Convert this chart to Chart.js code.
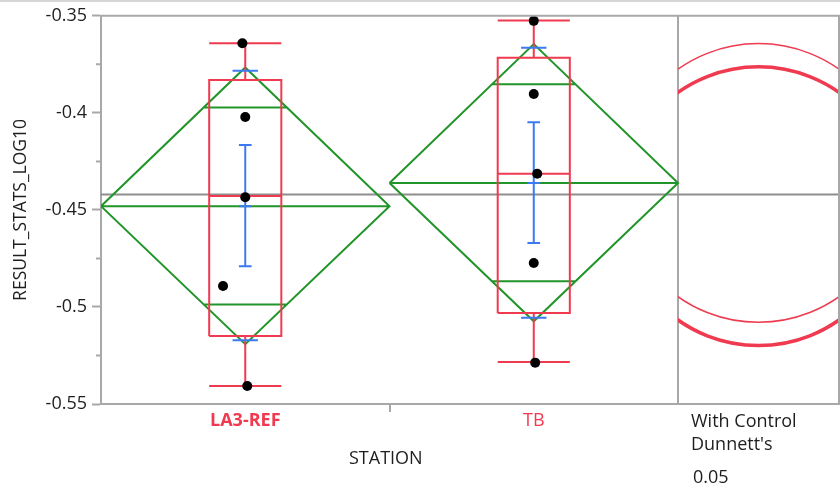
<!DOCTYPE html>
<html>
<head>
<meta charset="utf-8">
<script src="https://cdn.jsdelivr.net/npm/chart.js@4.4.1/dist/chart.umd.min.js"></script>
<style>
  html, body { margin: 0; padding: 0; background: #fff; }
  #wrap { position: relative; width: 840px; height: 486px; font-family: 'Open Sans', 'Noto Sans', sans-serif; color: #1e1e1e; }
  #topline { position: absolute; left: 0; top: 0; width: 840px; height: 2px; background: #d6d6d6; }
  canvas { position: absolute; left: 0; top: 0; }
  .lbl { position: absolute; font-size: 18px; line-height: 22px; white-space: nowrap; }
</style>
</head>
<body>
<div id="wrap">
  <canvas id="oneway" width="840" height="486"></canvas>
  <div id="topline"></div>
  <div class="lbl" style="left:349px; top:446px;">STATION</div>
  <div class="lbl" style="left:691px; top:409px;">With Control</div>
  <div class="lbl" style="left:691px; top:432px;">Dunnett's</div>
  <div class="lbl" style="left:693px; top:465px;">0.05</div>
</div>
<script>
// stations (LA3-REF is the control)
const stations = ['LA3-REF', 'TB'];
const controlIndex = 0;

// raw points
const pointStation = [0, 0, 0, 0, 0, 1, 1, 1, 1, 1];
const pointJitter = [-0.010, 0, 0, -0.077, 0.007, 0, 0, 0.012, 0, 0.005];
const pointValue = [-0.3641, -0.4021, -0.4435, -0.4892, -0.5407, -0.3526, -0.3903, -0.4314, -0.4774, -0.5287];

// means diamonds
const means = [-0.4481, -0.4361];
const ciLow = [-0.5192, -0.5074];
const ciHigh = [-0.3766, -0.3646];
const overlapLow = [-0.4987, -0.4868];
const overlapHigh = [-0.3973, -0.3853];

// box plots
const boxMin = [-0.5407, -0.5283];
const boxQ1 = [-0.5150, -0.5031];
const boxMedian = [-0.4429, -0.4314];
const boxQ3 = [-0.3831, -0.3716];
const boxMax = [-0.3641, -0.3524];

// mean error bars and std dev lines
const seLow = [-0.4790, -0.4671];
const seHigh = [-0.4165, -0.4049];
const sdLow = [-0.5172, -0.5055];
const sdHigh = [-0.3783, -0.3665];

// Dunnett comparison circles
const circleRadius = [0.0718, 0.0718];
const grandMean = -0.4421;

const yTicks = [-0.55, -0.5, -0.45, -0.4, -0.35];
const yTickLabels = ['-0.55', '-0.5', '-0.45', '-0.4', '-0.35'];
const yMinorTicks = [-0.525, -0.475, -0.425, -0.375];

const FONT = "'Open Sans', 'Noto Sans', sans-serif";
const RED = '#f03a50';
const GREEN = '#22952a';
const BLUE = '#3c7af2';
const AXIS = '#a8a8a8';
const MEANLINE = '#8e8e8e';
const panelStart = 1.5;
const panelWidth = 0.558;
const xMax = panelStart + panelWidth;

// turn a list of polylines into one dataset with gaps
function segs(list) {
    const out = [];
    list.forEach((s, k) => {
        if (k) out.push({x: s[0][0], y: null});
        s.forEach(p => out.push({x: p[0], y: p[1]}));
    });
    return out;
}

const green = [], red = [], blue = [];
const bw = 0.125, cap = 0.022, sdCap = 0.044;
stations.forEach((s, i) => {
    const m = means[i];
    green.push([[i - 0.5, m], [i, ciHigh[i]], [i + 0.5, m], [i, ciLow[i]], [i - 0.5, m]]);
    green.push([[i - 0.5, m], [i + 0.5, m]]);
    const hu = 0.5 * (1 - (overlapHigh[i] - m) / (ciHigh[i] - m));
    const hl = 0.5 * (1 - (m - overlapLow[i]) / (m - ciLow[i]));
    green.push([[i - hu, overlapHigh[i]], [i + hu, overlapHigh[i]]]);
    green.push([[i - hl, overlapLow[i]], [i + hl, overlapLow[i]]]);

    red.push([[i - bw, boxQ1[i]], [i + bw, boxQ1[i]], [i + bw, boxQ3[i]], [i - bw, boxQ3[i]], [i - bw, boxQ1[i]]]);
    red.push([[i - bw, boxMedian[i]], [i + bw, boxMedian[i]]]);
    red.push([[i, boxQ3[i]], [i, boxMax[i]]]);
    red.push([[i, boxQ1[i]], [i, boxMin[i]]]);
    red.push([[i - bw, boxMax[i]], [i + bw, boxMax[i]]]);
    red.push([[i - bw, boxMin[i]], [i + bw, boxMin[i]]]);

    blue.push([[i, seLow[i]], [i, seHigh[i]]]);
    blue.push([[i - cap, seLow[i]], [i + cap, seLow[i]]]);
    blue.push([[i - cap, seHigh[i]], [i + cap, seHigh[i]]]);
    blue.push([[i - cap, m], [i + cap, m]]);
    blue.push([[i - sdCap, sdLow[i]], [i + sdCap, sdLow[i]]]);
    blue.push([[i - sdCap, sdHigh[i]], [i + sdCap, sdHigh[i]]]);
});

const points = pointValue.map((v, k) => ({x: pointStation[k] + pointJitter[k], y: v}));

// circles, plot frame and minor ticks
const panelPlugin = {
    id: 'panel',
    afterDatasetsDraw(chart) {
        const {ctx, chartArea, scales} = chart;
        const xs = scales.x, ys = scales.y;
        const left = xs.getPixelForValue(panelStart);
        const cx = xs.getPixelForValue(panelStart + panelWidth / 2);
        ctx.save();
        ctx.beginPath();
        ctx.rect(left, chartArea.top, chartArea.right - left, chartArea.bottom - chartArea.top);
        ctx.clip();
        ctx.strokeStyle = RED;
        stations.forEach((s, i) => {
            const cy = ys.getPixelForValue(means[i]);
            const r = Math.abs(ys.getPixelForValue(means[i] + circleRadius[i]) - cy);
            ctx.lineWidth = i === controlIndex ? 3.5 : 1.5;
            ctx.beginPath();
            ctx.arc(cx, cy, r, 0, Math.PI * 2);
            ctx.stroke();
        });
        ctx.restore();
    },
    afterDraw(chart) {
        const {ctx, chartArea, scales} = chart;
        ctx.save();
        ctx.strokeStyle = AXIS;
        ctx.lineWidth = 2;
        ctx.beginPath();
        ctx.moveTo(chartArea.left, chartArea.top);
        ctx.lineTo(chartArea.right, chartArea.top);
        ctx.lineTo(chartArea.right, chartArea.bottom);
        yMinorTicks.forEach(v => {
            const y = scales.y.getPixelForValue(v);
            ctx.moveTo(chartArea.left - 5, y);
            ctx.lineTo(chartArea.left, y);
        });
        ctx.stroke();
        ctx.restore();
    }
};

const ctx = document.getElementById('oneway').getContext('2d');
const chart = new Chart(ctx, {
    type: 'line',
    data: {
        datasets: [
            {
                label: 'Points',
                data: points,
                showLine: false,
                pointRadius: 5,
                pointBackgroundColor: '#000',
                pointBorderWidth: 0,
                order: 0
            },
            {
                label: 'Error bars',
                data: segs(blue),
                borderColor: BLUE,
                borderWidth: 2,
                pointRadius: 0,
                order: 1
            },
            {
                label: 'Box plots',
                data: segs(red),
                borderColor: RED,
                borderWidth: 2,
                pointRadius: 0,
                order: 2
            },
            {
                label: 'Means diamonds',
                data: segs(green),
                borderColor: GREEN,
                borderWidth: 2,
                pointRadius: 0,
                borderJoinStyle: 'miter',
                order: 3
            },
            {
                label: 'Grand mean',
                data: [{x: -0.5, y: grandMean}, {x: xMax, y: grandMean}],
                borderColor: MEANLINE,
                borderWidth: 2,
                pointRadius: 0,
                order: 4
            }
        ]
    },
    options: {
        responsive: false,
        animation: false,
        devicePixelRatio: 1,
        spanGaps: false,
        layout: { autoPadding: false, padding: { top: 15, right: 1, left: 0, bottom: 0 } },
        plugins: {
            legend: { display: false },
            tooltip: { enabled: false }
        },
        scales: {
            x: {
                type: 'linear',
                min: -0.5,
                max: xMax,
                afterBuildTicks: scale => {
                    scale.ticks = [{value: 0}, {value: 0.5}, {value: 1}, {value: panelStart}];
                },
                afterFit: scale => { scale.height = 82; },
                border: { color: AXIS, width: 2 },
                grid: {
                    drawOnChartArea: true,
                    tickLength: 8,
                    color: c => (c.tick && c.tick.value === panelStart) ? AXIS : 'transparent',
                    lineWidth: 2,
                    tickColor: c => (c.tick && c.tick.value === 0.5) ? AXIS : 'transparent',
                    tickWidth: 2
                },
                ticks: {
                    autoSkip: false,
                    maxRotation: 0,
                    padding: 0,
                    color: RED,
                    font: c => ({
                        family: FONT,
                        size: 18,
                        lineHeight: 1,
                        weight: (c.tick && c.tick.value === controlIndex) ? 'bold' : 'normal'
                    }),
                    callback: v => (Number.isInteger(v) && stations[v] !== undefined) ? stations[v] : ''
                }
            },
            y: {
                type: 'linear',
                min: -0.55,
                max: -0.35,
                afterBuildTicks: scale => {
                    scale.ticks = yTicks.map(v => ({value: v}));
                },
                afterFit: scale => { scale.width = 101; },
                border: { color: AXIS, width: 2 },
                grid: {
                    drawOnChartArea: false,
                    tickLength: 9,
                    tickColor: AXIS,
                    tickWidth: 2
                },
                ticks: {
                    padding: 5,
                    color: '#1e1e1e',
                    font: { family: FONT, size: 18 },
                    callback: (v, i) => yTickLabels[i]
                },
                title: {
                    display: true,
                    text: 'RESULT_STATS_LOG10',
                    color: '#1e1e1e',
                    font: { family: FONT, size: 17.5 },
                    padding: { top: 11, bottom: 0 }
                }
            }
        }
    },
    plugins: [panelPlugin]
});
</script>
</body>
</html>
